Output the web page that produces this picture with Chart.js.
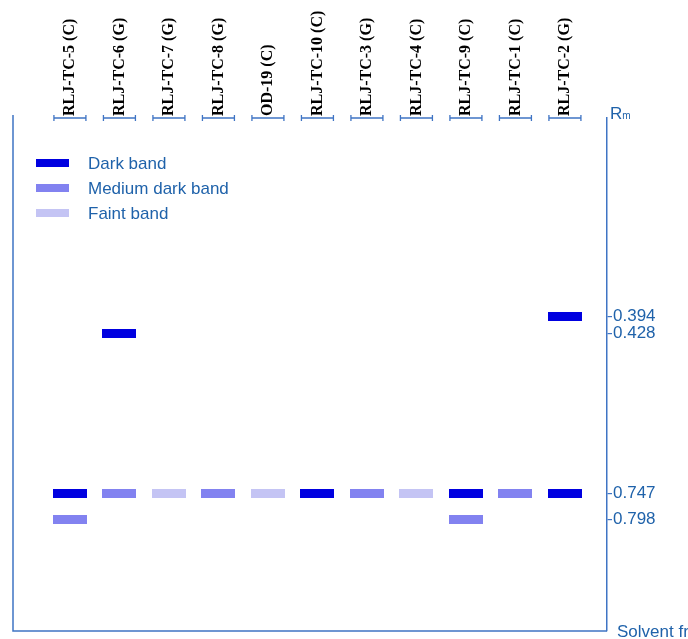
<!DOCTYPE html>
<html>
<head>
<meta charset="utf-8">
<script src="https://cdn.jsdelivr.net/npm/chart.js@4"></script>
<style>
  html, body { margin: 0; padding: 0; background: #ffffff; }
  canvas { display: block; }
</style>
</head>
<body>
<canvas id="tlc" width="688" height="639"></canvas>
<script>
// Lanes of the plate, left to right
const lanes = ['RLJ-TC-5 (C)', 'RLJ-TC-6 (G)', 'RLJ-TC-7 (G)', 'RLJ-TC-8 (G)', 'OD-19 (C)',
  'RLJ-TC-10 (C)', 'RLJ-TC-3 (G)', 'RLJ-TC-4 (C)', 'RLJ-TC-9 (C)', 'RLJ-TC-1 (C)', 'RLJ-TC-2 (G)'];

// Bands per intensity: lane number (1-based) and Rm value
const darkLane   = [1, 2, 6, 9, 11, 11];
const darkRm     = [0.747, 0.428, 0.747, 0.747, 0.394, 0.747];
const mediumLane = [1, 2, 4, 7, 9, 10];
const mediumRm   = [0.798, 0.747, 0.747, 0.747, 0.798, 0.747];
const faintLane  = [3, 5, 8];
const faintRm    = [0.747, 0.747, 0.747];

// Rm values marked on the right-hand axis
const rmTicks = [0.394, 0.428, 0.747, 0.798];

const seriesNames = ['Dark band', 'Medium dark band', 'Faint band'];

const BLUE_LINE = '#3f74c4';
const BLUE_TEXT = '#1f62aa';
const SANS = '"Liberation Sans", Arial, sans-serif';
const SERIF = '"Liberation Serif", "Times New Roman", serif';

// A band is drawn as a flat rectangle used as the point style
function bandImage(color) {
  const c = document.createElement('canvas');
  c.width = 34; c.height = 9;
  const g = c.getContext('2d');
  g.fillStyle = color;
  g.fillRect(0, 0, c.width, c.height);
  return c;
}

function toPoints(laneArr, rmArr) {
  return laneArr.map((l, i) => ({ x: l, y: rmArr[i] }));
}

const colors = ['#0000e0', '#8282f0', '#c4c4f4'];

const datasets = [
  { label: seriesNames[0], data: toPoints(darkLane, darkRm) },
  { label: seriesNames[1], data: toPoints(mediumLane, mediumRm) },
  { label: seriesNames[2], data: toPoints(faintLane, faintRm) }
].map((d, i) => Object.assign(d, {
  backgroundColor: colors[i],
  borderColor: colors[i],
  pointStyle: bandImage(colors[i]),
  showLine: false
}));

// Frame, lane labels, brackets, legend and captions
const platePlugin = {
  id: 'plate',
  afterDraw(chart) {
    const ctx = chart.ctx;
    const a = chart.chartArea;
    const xs = chart.scales.x;
    ctx.save();

    // left and bottom edges of the plate
    ctx.strokeStyle = BLUE_LINE;
    ctx.lineWidth = 1.5;
    ctx.beginPath();
    ctx.moveTo(a.left, a.top - 3);
    ctx.lineTo(a.left, a.bottom);
    ctx.lineTo(a.right, a.bottom);
    ctx.stroke();

    // application brackets and lane names
    lanes.forEach((name, i) => {
      const x = xs.getPixelForValue(i + 1);
      const y = a.top;
      ctx.strokeStyle = BLUE_LINE;
      ctx.lineWidth = 1.3;
      ctx.beginPath();
      ctx.moveTo(x - 16, y); ctx.lineTo(x + 16, y);
      ctx.moveTo(x - 16, y - 3); ctx.lineTo(x - 16, y + 3);
      ctx.moveTo(x + 16, y - 3); ctx.lineTo(x + 16, y + 3);
      ctx.stroke();

      ctx.save();
      ctx.translate(x, y - 2);
      ctx.rotate(-Math.PI / 2);
      ctx.fillStyle = '#000000';
      ctx.font = 'bold 16px ' + SERIF;
      ctx.textAlign = 'left';
      ctx.textBaseline = 'middle';
      ctx.fillText(name, 0, 0);
      ctx.restore();
    });

    // Rm caption at the origin line
    ctx.fillStyle = BLUE_TEXT;
    ctx.textAlign = 'left';
    ctx.textBaseline = 'alphabetic';
    ctx.font = '17px ' + SANS;
    ctx.fillText('R', a.right + 3, a.top + 1);
    const rw = ctx.measureText('R').width;
    ctx.font = '10px ' + SANS;
    ctx.fillText('m', a.right + 3 + rw, a.top + 1);

    // solvent front caption
    ctx.font = '17px ' + SANS;
    ctx.textBaseline = 'middle';
    ctx.fillText('Solvent front', a.right + 10, a.bottom + 1);

    // legend
    chart.data.datasets.forEach((ds, i) => {
      const cy = 163 + i * 25;
      ctx.fillStyle = ds.backgroundColor;
      ctx.fillRect(36, cy - 4, 33, 8);
      ctx.fillStyle = BLUE_TEXT;
      ctx.font = '17px ' + SANS;
      ctx.textBaseline = 'middle';
      ctx.fillText(ds.label, 88, cy + 1);
    });

    ctx.restore();
  }
};

new Chart(document.getElementById('tlc'), {
  type: 'scatter',
  data: { datasets },
  options: {
    responsive: false,
    animation: false,
    events: [],
    layout: { padding: { left: 13, top: 118, right: 0, bottom: 8 } },
    plugins: { legend: { display: false }, tooltip: { enabled: false } },
    scales: {
      x: { type: 'linear', display: false, min: -0.15, max: 11.85 },
      y: {
        type: 'linear',
        position: 'right',
        reverse: true,
        min: 0,
        max: 1.02,
        afterBuildTicks(scale) { scale.ticks = rmTicks.map(v => ({ value: v })); },
        afterFit(scale) {
          scale.width = 81;
          scale.paddingTop = 0;
          scale.paddingBottom = 0;
        },
        border: { display: true, color: BLUE_LINE, width: 1.5 },
        grid: { drawOnChartArea: false, drawTicks: true, tickLength: 5, color: BLUE_LINE, lineWidth: 1.2 },
        ticks: {
          autoSkip: false,
          padding: 1,
          color: BLUE_TEXT,
          font: { family: SANS, size: 17 },
          callback: v => Number(v).toFixed(3)
        }
      }
    }
  },
  plugins: [platePlugin]
});
</script>
</body>
</html>
